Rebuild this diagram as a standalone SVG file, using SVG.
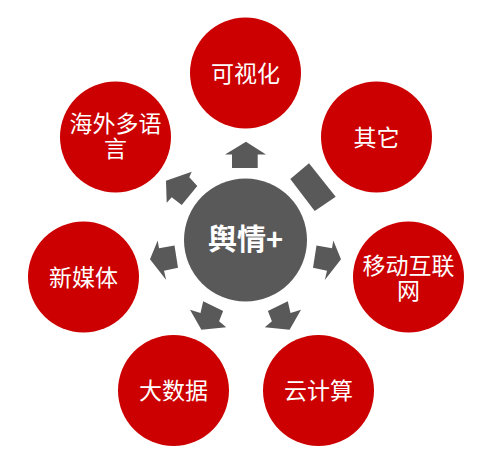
<svg xmlns="http://www.w3.org/2000/svg" width="494" height="467" viewBox="0 0 494 467">
<style>
.node{fill:#CC0000}
.lbl{fill:#FFFFFF;font-family:"Noto Sans CJK SC","Microsoft YaHei",sans-serif;font-size:23px;text-anchor:middle}
.hub{fill:#595959}
.hublbl{fill:#FFFFFF;font-family:"Noto Sans CJK SC","Microsoft YaHei",sans-serif;font-size:29px;font-weight:bold;text-anchor:middle}
.arr{fill:#595959}
</style>
<rect width="494" height="467" fill="#FFFFFF"/>
<g id="connectors">
<polygon class="arr" points="246,141.7 266,154.5 257.7,154.5 257.7,168 232,168 232,154.5 225,154.5"/>
<polygon class="arr" points="309,163.3 335.7,196.7 314.7,211 290.3,179"/>
<polygon class="arr" points="191.7,171.7 189.3,177.3 197.3,186 181.7,205 171.7,197.3 166.7,202.7 166,180.7"/>
<polygon class="arr" points="157.7,240.5 159,248.3 174.5,245.5 178,267.8 164,270.7 166.2,280 150,259.3"/>
<polygon class="arr" points="333.3,240.5 332,248.3 316.5,245.5 313,267.8 327,270.7 324.8,280 341,259.3"/>
<polygon class="arr" points="203.2,301.3 223.1,311 219.1,321.3 226.2,327.3 201.4,329.7 190,309.7 200.5,313"/>
<polygon class="arr" points="287.8,301.3 267.9,311 271.9,321.3 264.8,327.3 289.6,329.7 301,309.7 290.5,313"/>
</g>
<g id="hub">
<circle class="hub" cx="245.5" cy="240" r="61.5"/>
<text class="hublbl" x="245.5" y="250">舆情+</text>
</g>
<g id="node-keshihua">
<circle class="node" cx="245.5" cy="73" r="55.5"/>
<text class="lbl" x="245.5" y="81.5">可视化</text>
</g>
<g id="node-qita">
<circle class="node" cx="376.5" cy="137" r="55.5"/>
<text class="lbl" x="376.5" y="145.5">其它</text>
</g>
<g id="node-yidong">
<circle class="node" cx="408.5" cy="277" r="55.5"/>
<text class="lbl" x="408.5" y="274">移动互联<tspan x="408.5" dy="24.5">网</tspan></text>
</g>
<g id="node-yunjisuan">
<circle class="node" cx="318.5" cy="390.5" r="55.5"/>
<text class="lbl" x="318.5" y="399">云计算</text>
</g>
<g id="node-dashuju">
<circle class="node" cx="173.5" cy="390.5" r="55.5"/>
<text class="lbl" x="173.5" y="399">大数据</text>
</g>
<g id="node-xinmeiti">
<circle class="node" cx="83.5" cy="277" r="55.5"/>
<text class="lbl" x="83.5" y="285.5">新媒体</text>
</g>
<g id="node-haiwai">
<circle class="node" cx="115.5" cy="137" r="55.5"/>
<text class="lbl" x="115.5" y="131.5">海外多语<tspan x="115.5" dy="25.5">言</tspan></text>
</g>
</svg>
